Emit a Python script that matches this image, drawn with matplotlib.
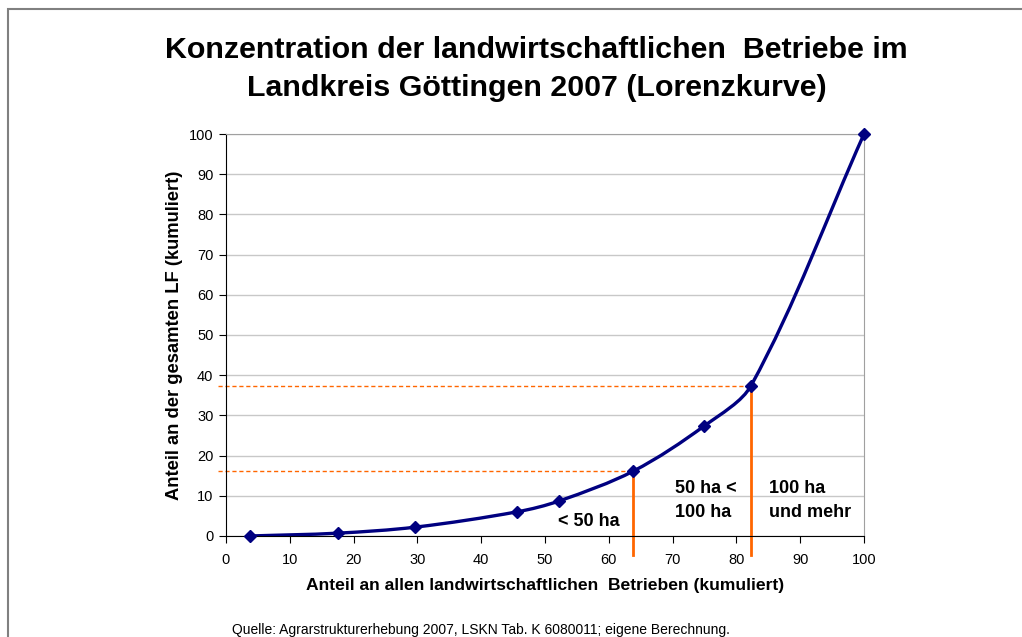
import numpy as np
import matplotlib.pyplot as plt
from matplotlib.path import Path
from matplotlib.patches import PathPatch, Rectangle

plt.rcParams['font.family'] = ['Liberation Sans', 'DejaVu Sans']

# data (cumulative shares)
betriebe_kum = [3.8, 17.5, 29.7, 45.6, 52.2, 63.8, 74.9, 82.3, 100.0]
lf_kum = [0.0, 0.7, 2.2, 6.0, 8.7, 16.1, 27.3, 37.4, 100.0]
grenzen_x = [63.8, 82.3]
grenzen_y = [16.1, 37.4]
klassen = ['< 50 ha', '50 ha <\n100 ha', '100 ha\nund mehr']
klassen_pos = [(52.0, 3.5), (70.4, 8.8), (85.1, 8.8)]

navy = '#000080'
orange = '#FF6600'


def smooth_path(x, y):
    # smoothed line: cubic bezier through every point,
    # handle length scaled by the segment length
    pts = np.column_stack([x, y])
    n = len(pts)

    def tangent(i):
        a = pts[max(i - 1, 0)]
        b = pts[min(i + 1, n - 1)]
        d = b - a
        return d / np.hypot(*d)

    verts = [pts[0]]
    codes = [Path.MOVETO]
    for i in range(n - 1):
        p1, p2 = pts[i], pts[i + 1]
        L = np.hypot(*(p2 - p1)) / 3
        verts += [p1 + tangent(i) * L, p2 - tangent(i + 1) * L, p2]
        codes += [Path.CURVE4] * 3
    return Path(verts, codes)


fig = plt.figure(figsize=(10.22, 6.37), dpi=100)
ax = fig.add_axes([0.2211, 0.1586, 0.6243, 0.631])

# outer frame of the chart object
fig.patches.append(Rectangle((8 / 1022, -0.1), 1.2, 1 - 9 / 637 + 0.1,
                             transform=fig.transFigure, fill=False,
                             edgecolor='#808080', lw=1.5))

ax.set_xlim(0, 100)
ax.set_ylim(0, 100)
ax.set_xticks(np.arange(0, 101, 10))
ax.set_yticks(np.arange(0, 101, 10))
ax.yaxis.grid(True, color='#c8c8c8', lw=1)
ax.set_axisbelow(True)
for s in ['top', 'right']:
    ax.spines[s].set_color('#a0a0a0')
for s in ['left', 'bottom']:
    ax.spines[s].set_color('black')
ax.tick_params(direction='out', length=5, labelsize=10.5, colors='black')
ax.tick_params(axis='x', pad=7)
ax.tick_params(axis='y', pad=4)

# helper lines
for gx, gy in zip(grenzen_x, grenzen_y):
    ax.plot([-1.2, gx], [gy, gy], color=orange, lw=1, ls=(0, (3, 2)),
            clip_on=False, zorder=2)
    ax.plot([gx, gx], [gy, -4.8], color=orange, lw=2, clip_on=False, zorder=2)

ax.add_patch(PathPatch(smooth_path(betriebe_kum, lf_kum), facecolor='none',
                       edgecolor=navy, lw=2.4, zorder=3))
ax.plot(betriebe_kum, lf_kum, ls='none', marker='D', ms=6.5, color=navy,
        zorder=4, clip_on=False)

for txt, (tx, ty) in zip(klassen, klassen_pos):
    ax.text(tx, ty, txt, fontsize=13, fontweight='bold', ha='left',
            va='center', linespacing=1.5)

ax.set_xlabel('Anteil an allen landwirtschaftlichen  Betrieben (kumuliert)',
              fontsize=12.6, fontweight='bold', labelpad=8)
ax.set_ylabel('Anteil an der gesamten LF (kumuliert)', fontsize=13.2,
              fontweight='bold', labelpad=4)

fig.text(0.525, 0.891,
         'Konzentration der landwirtschaftlichen  Betriebe im\n'
         'Landkreis Göttingen 2007 (Lorenzkurve)',
         ha='center', va='center', fontsize=21.9, fontweight='bold',
         linespacing=1.45)
fig.text(232 / 1022, 1 - 630 / 637,
         'Quelle: Agrarstrukturerhebung 2007, LSKN Tab. K 6080011; eigene Berechnung.',
         ha='left', va='center', fontsize=10)

fig.savefig('out.png', dpi=100)
